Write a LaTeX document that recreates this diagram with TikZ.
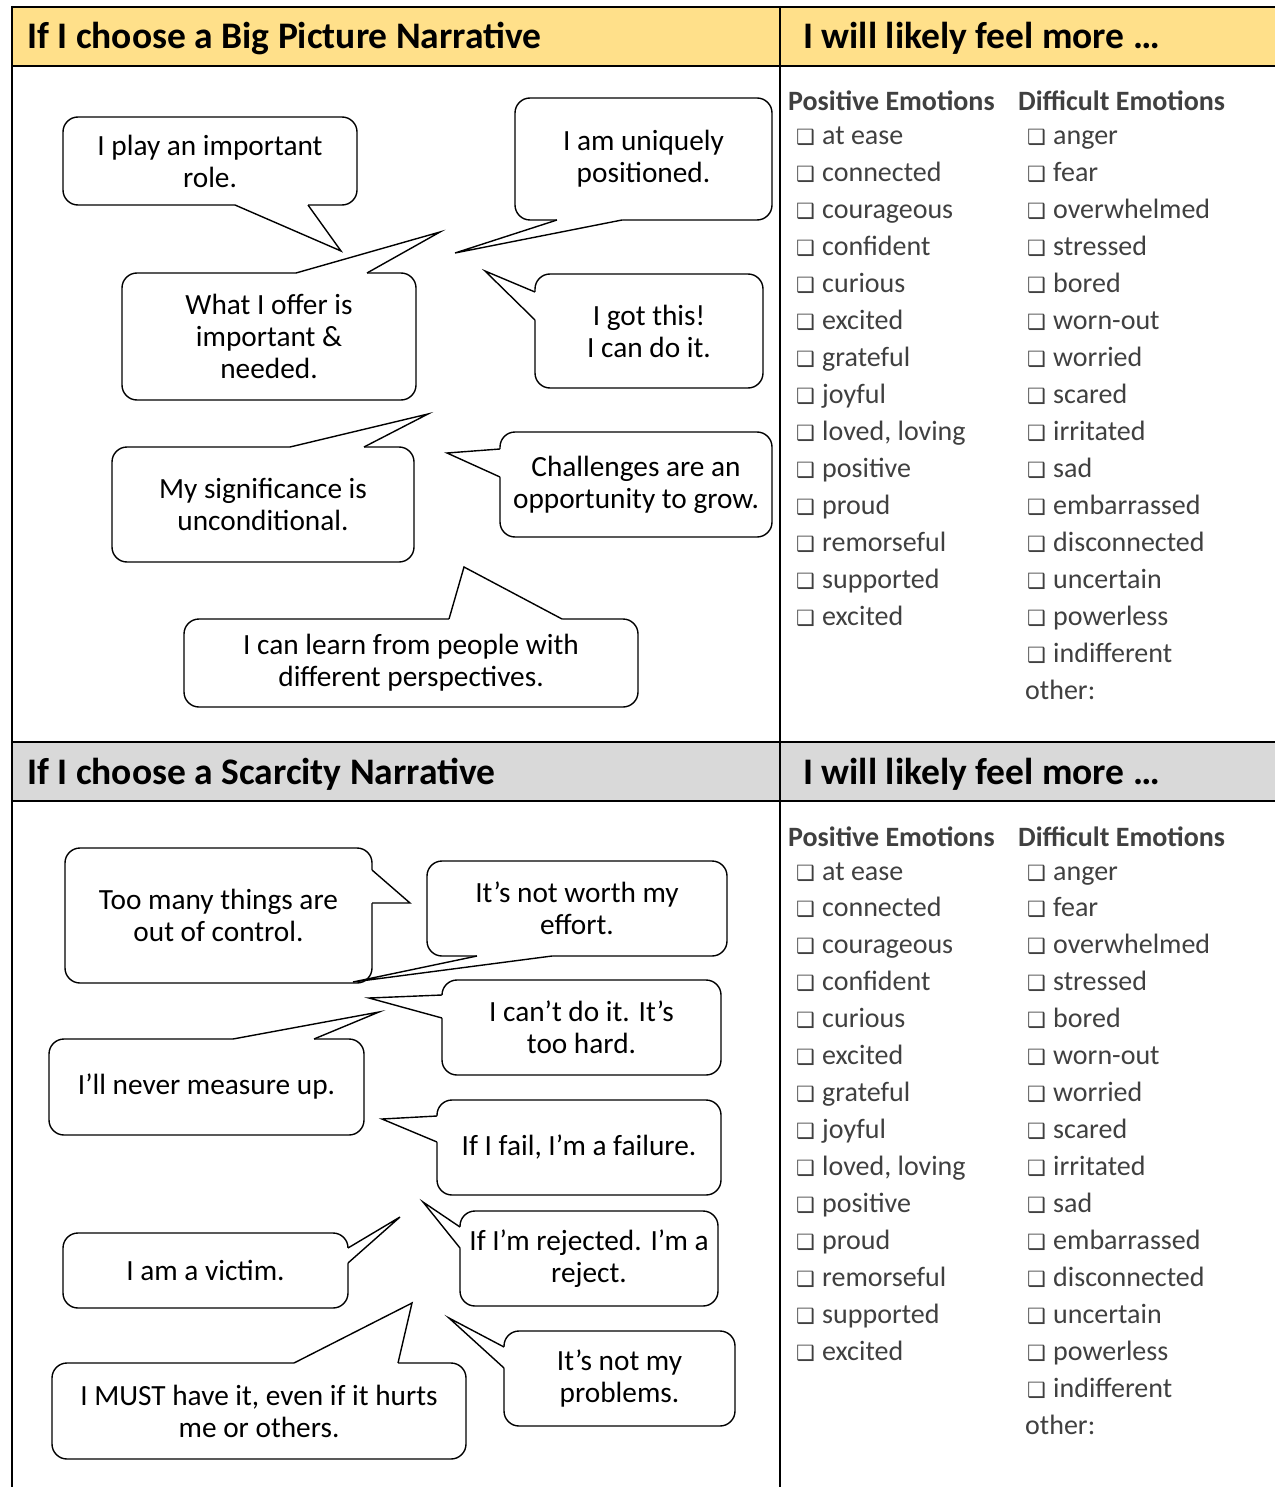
\documentclass[tikz,border=0pt]{standalone}
\usepackage{fontspec}
\setmainfont{Carlito}
\newfontfamily\symfont{DejaVu Sans}
\usetikzlibrary{calc}
\definecolor{hdryellow}{HTML}{FFE08A}
\definecolor{hdrgray}{HTML}{D9D9D9}
\definecolor{listgray}{HTML}{404040}

% speech bubble: name, x1, y1, x2, y2, text
\newcommand\bubble[6]{%
  \node[bubble, minimum width={#4-#2}, minimum height={#5-#3}] (#1)
    at ({(#2+#4)/2},{(#3+#5)/2}) {#6};}
% pointer of a bubble: node, base point, base point, tip, inward shift
\newcommand\callout[5]{%
  \coordinate (#1-p) at #2;
  \coordinate (#1-q) at #3;
  \coordinate (#1-tip) at #4;
  \fill[white] (#1-p) -- (#1-tip) -- (#1-q) -- ($(#1-q)+#5$) -- ($(#1-p)+#5$) -- cycle;
  \draw[bubbleline] (#1-p) -- (#1-tip) -- (#1-q);}
\newcommand\chk{\makebox[26pt][l]{\symfont\fontsize{21}{21}\selectfont ❑}}

\begin{document}
\begin{tikzpicture}[x=1pt,y=-1pt,
  rule/.style={line width=2pt, black},
  bubble/.style={draw, line width=1.4pt, fill=white, rounded corners=15pt,
    align=center, inner sep=0pt, outer sep=0pt, font=\fontsize{29.3}{32}\selectfont},
  bubbleline/.style={line width=1.4pt, line join=miter},
  hdr/.style={anchor=base west, inner sep=0pt, font=\fontsize{37.5}{40}\selectfont\bfseries},
  colhead/.style={anchor=base west, inner sep=0pt, text=listgray,
    font=\fontsize{28}{32}\selectfont\bfseries},
  item/.style={anchor=base west, inner sep=0pt, text=listgray,
    font=\fontsize{28}{32}\selectfont},
]
\useasboundingbox (0,0) rectangle (1275,1487);
\fill[white] (0,0) rectangle (1275,1487);

% table frame and header rows
\fill[hdryellow] (12,7) rectangle (1275,66);
\fill[hdrgray] (12,742) rectangle (1275,801);
\draw[rule] (12,7) -- (1275,7);
\draw[rule] (12,66) -- (1275,66);
\draw[rule] (12,742) -- (1275,742);
\draw[rule] (12,801) -- (1275,801);
\draw[rule] (12,6) -- (12,1487);
\draw[rule] (780,6) -- (780,1487);

\node[hdr] (h1) at (27,49) {If I choose a Big Picture Narrative};
\node[hdr] (h2) at (803,49) {I will likely feel more …};
\node[hdr] (h3) at (27,784) {If I choose a Scarcity Narrative};
\node[hdr] (h4) at (803,784) {I will likely feel more …};

% emotion checklists
\foreach \off/\sec in {0/top,735/bot}{
  \node[colhead] (\sec-poshead) at (788,111+\off) {Positive Emotions};
  \node[colhead] (\sec-difhead) at (1018,111+\off) {Difficult Emotions};
  \foreach \w [count=\i] in {at ease,connected,courageous,confident,curious,excited,
      grateful,joyful,{loved, loving},positive,proud,remorseful,supported,excited}{
    \node[item] (\sec-pos-\i) at (796,{145+\off+(\i-1)*36.93}) {\chk\w};}
  \foreach \w [count=\i] in {anger,fear,overwhelmed,stressed,bored,worn-out,worried,
      scared,irritated,sad,embarrassed,disconnected,uncertain,powerless,indifferent}{
    \node[item] (\sec-dif-\i) at (1027,{145+\off+(\i-1)*36.93}) {\chk\w};}
  \node[item] (\sec-other) at (1025,699+\off) {other:};
}

% big picture narrative bubbles
\bubble{b1}{63}{117}{357}{205}{I play an important\\role.}
\callout{b1}{(235,0 |- b1.south)}{(308,0 |- b1.south)}{(341,251)}{(0,-2.5)}
\bubble{b2}{515}{98}{772}{220}{I am uniquely\\positioned.}
\callout{b2}{(557,0 |- b2.south)}{(622,0 |- b2.south)}{(455,253)}{(0,-2.5)}
\bubble{b3}{122}{273}{416}{400}{What I offer is\\important \&\\needed.}
\callout{b3}{(296,0 |- b3.north)}{(367,0 |- b3.north)}{(440,232)}{(0,2.5)}
\bubble{b4}{535}{274}{763}{388}{I got this!\\I can do it.}
\callout{b4}{(b4.west |- 0,292)}{(b4.west |- 0,320)}{(485,271)}{(2.5,0)}
\bubble{b5}{112}{447}{414}{562}{My significance is\\unconditional.}
\callout{b5}{(290,0 |- b5.north)}{(364,0 |- b5.north)}{(428,414)}{(0,2.5)}
\bubble{b6}{500}{432}{772}{537}{Challenges are an\\opportunity to grow.}
\callout{b6}{(b6.west |- 0,449)}{(b6.west |- 0,477)}{(447,453)}{(2.5,0)}
\bubble{b7}{184}{619}{638}{707}{I can learn from people with\\different perspectives.}
\callout{b7}{(449,0 |- b7.north)}{(562,0 |- b7.north)}{(464,567)}{(0,2.5)}

% scarcity narrative bubbles
\bubble{s1}{65}{848}{372}{983}{Too many things are\\out of control.}
\callout{s1}{(s1.east |- 0,870)}{(s1.east |- 0,903)}{(410,903)}{(-2.5,0)}
\bubble{s2}{427}{861}{727}{956}{It’s not worth my\\effort.}
\callout{s2}{(477,0 |- s2.south)}{(552,0 |- s2.south)}{(353,982)}{(0,-2.5)}
\bubble{s3}{442}{980}{721}{1075}{I can’t do it. It’s\\too hard.}
\callout{s3}{(s3.west |- 0,995)}{(s3.west |- 0,1018)}{(369,998)}{(2.5,0)}
\bubble{s4}{49}{1039}{364}{1135}{I’ll never measure up.}
\callout{s4}{(233,0 |- s4.north)}{(314,0 |- s4.north)}{(379,1012)}{(0,2.5)}
\bubble{s5}{437}{1100}{721}{1195}{If I fail, I’m a failure.}
\callout{s5}{(s5.west |- 0,1116)}{(s5.west |- 0,1142)}{(382,1119)}{(2.5,0)}
\bubble{s6}{63}{1233}{348}{1308}{I am a victim.}
\callout{s6}{(s6.east |- 0,1248)}{(s6.east |- 0,1263)}{(400,1217)}{(-2.5,0)}
\bubble{s7}{460}{1211}{718}{1306}{If I’m rejected. I’m a\\reject.}
\callout{s7}{(s7.west |- 0,1227)}{(s7.west |- 0,1248)}{(423,1202)}{(2.5,0)}
\bubble{s8}{52}{1363}{466}{1459}{I MUST have it, even if it hurts\\me or others.}
\callout{s8}{(294,0 |- s8.north)}{(398,0 |- s8.north)}{(412,1303)}{(0,2.5)}
\bubble{s9}{504}{1331}{735}{1426}{It’s not my\\problems.}
\callout{s9}{(s9.west |- 0,1347)}{(s9.west |- 0,1368)}{(449,1318)}{(2.5,0)}
\end{tikzpicture}
\end{document}
